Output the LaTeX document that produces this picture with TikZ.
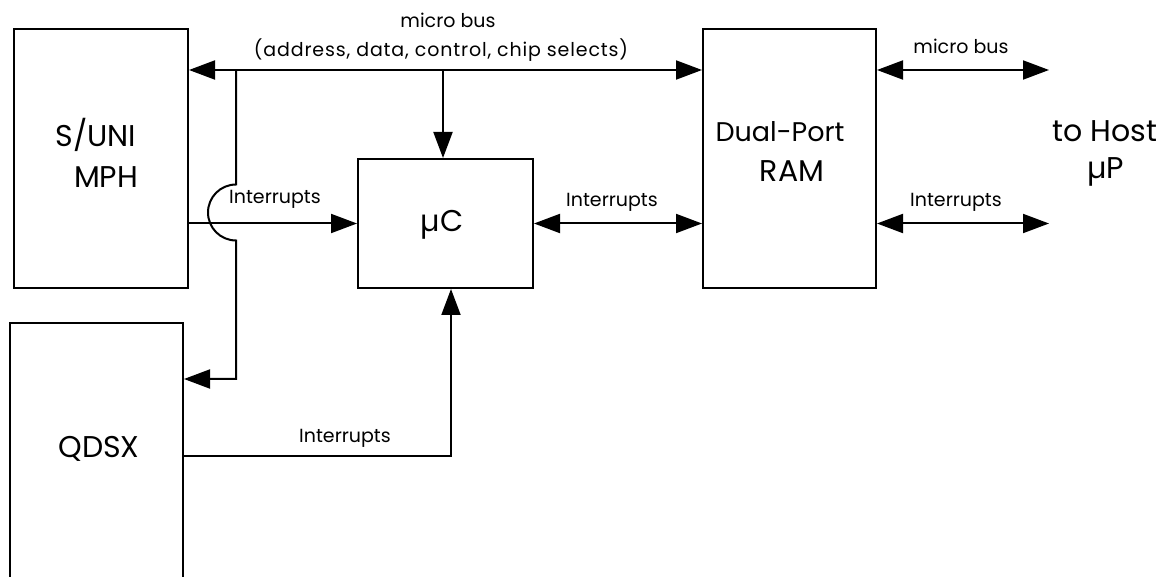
\documentclass[tikz,border=0pt]{standalone}
\usepackage{fontspec}
\setmainfont{Poppins}
\usetikzlibrary{arrows.meta,calc}
\begin{document}
\begin{tikzpicture}[x=1pt,y=-1pt,
  blk/.style={draw,line width=2pt,inner sep=0pt,anchor=north west},
  conn/.style={line width=2pt},
  sgl/.style={-{Triangle[length=26pt,width=19pt]}},
  dbl/.style={{Triangle[length=26pt,width=19pt]}-{Triangle[length=26pt,width=19pt]}},
  small/.style={inner sep=0pt,font=\fontsize{19}{22}\selectfont,text height=13.5pt,text depth=0pt},
  big/.style={inner sep=0pt,font=\fontsize{30}{34}\selectfont,text height=21.5pt,text depth=0pt}
]
\useasboundingbox (0,0) rectangle (1163,577);
\clip (0,0) rectangle (1163,577);
% blocks
\node[blk,minimum width=174pt,minimum height=259pt] (sun) at (13,28) {};
\node[blk,minimum width=173pt,minimum height=272pt] (qdsx) at (9,322) {};
\node[blk,minimum width=175pt,minimum height=129pt] (uc) at (357,158) {};
\node[blk,minimum width=173pt,minimum height=259pt] (ram) at (702,28) {};
% block texts
\node[big] (tsun1) at (96,136) {S/UNI};
\node[big] (tsun2) at (106,177) {MPH};
\node[big,font=\fontsize{27}{34}\selectfont] (tram1) at (780,131) {Dual-Port};
\node[big] (tram2) at (792,171) {RAM};
\node[big] (thost1) at (1105,131) {to Host};
\node[big] (thost2) at (1106,168) {µP};
\node[big] (tuc) at (442,221) {µC};
\node[big] (tq) at (99,447) {QDSX};
% coordinates
\coordinate (bus) at ($(sun.north east)+(0,42)$);
\coordinate (j) at ($(bus)+(47,0)$);
\coordinate (qa) at ($(qdsx.north east)+(0,57)$);
\coordinate (qi) at ($(qdsx.north east)+(0,134)$);
\coordinate (ucb) at ($(uc.south)+(5.5,0)$);
\coordinate (ucn) at ($(uc.north)+(-2.5,0)$);
\coordinate (h1) at ($(ram.north east)+(172,42)$);
\coordinate (h2) at (h1 |- uc.east);
% connectors
\draw[conn,dbl] (bus) -- (bus -| ram.west);
\draw[conn,sgl] (ucn |- bus) -- (ucn);
\draw[conn,sgl] (j) -- ($(j |- uc.west)+(0,-39)$) arc[start angle=270,end angle=90,radius=28] -- (j |- qa) -- (qa);
\draw[conn,sgl] (sun.east |- uc.west) -- (uc.west);
\draw[conn,dbl] (uc.east) -- (uc.east -| ram.west);
\draw[conn,dbl] (ram.east |- h1) -- (h1);
\draw[conn,dbl] (ram.east |- h2) -- (h2);
\draw[conn,sgl] (qi) -| (ucb);
% labels
\node[small] (lbus1) at (448,21) {micro bus};
\node[small] (lbus2) at (441,50) {\addfontfeatures{LetterSpace=4.5}(address, data, control, chip selects)};
\node[small] (lint1) at (275,197) {Interrupts};
\node[small] (lint2) at (612,200) {Interrupts};
\node[small] (lbus3) at (961,47) {micro bus};
\node[small] (lint3) at (956,200) {Interrupts};
\node[small] (lint4) at (345,436) {Interrupts};
\end{tikzpicture}
\end{document}
